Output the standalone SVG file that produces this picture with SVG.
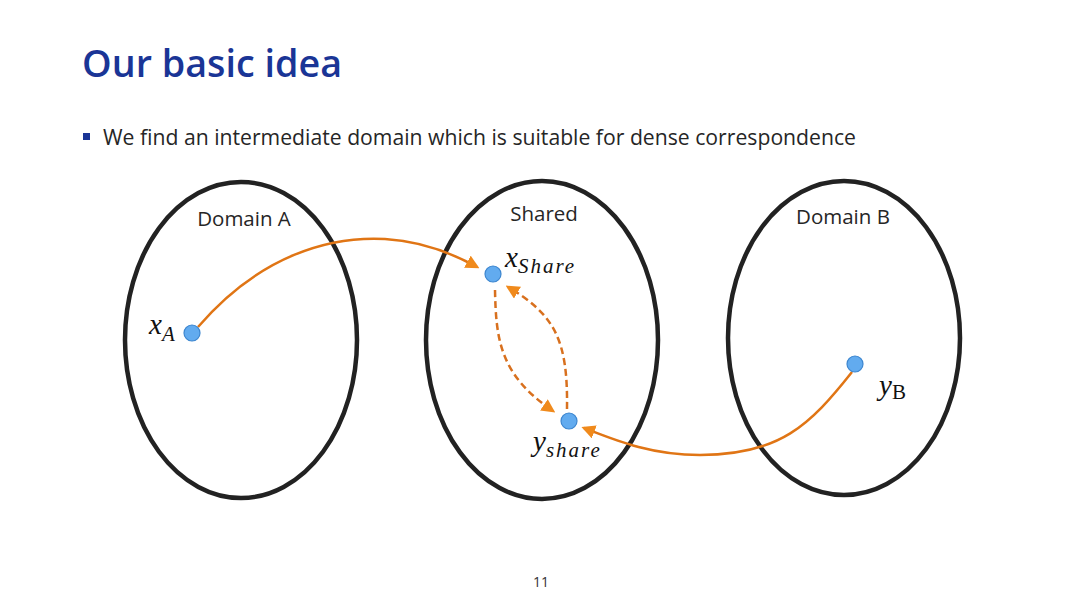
<svg xmlns="http://www.w3.org/2000/svg" width="1080" height="608" viewBox="0 0 1080 608">
<style>
.title{font-family:"Open Sans","Noto Sans",sans-serif;font-weight:600;font-size:37px;fill:#1a3596}
.body{font-family:"Open Sans","Noto Sans",sans-serif;font-size:21px;fill:#262626}
.lbl{font-family:"Open Sans","Noto Sans",sans-serif;font-size:20.5px;fill:#262626}
.math{font-family:"Liberation Serif",serif;font-style:italic;font-size:29px;fill:#111}
.sub{font-size:21px;letter-spacing:2px}
.dom{fill:none;stroke:#222;stroke-width:4.5}
.dot{fill:#62abef;stroke:#3d86cf;stroke-width:1.2}
.arr{fill:none;stroke:#e07515;stroke-width:2.5}
.dash{fill:none;stroke:#d8701e;stroke-width:2.5;stroke-dasharray:7 4}
</style>
<defs>
<marker id="ah" viewBox="0 0 10 10" refX="8" refY="5" markerWidth="5.5" markerHeight="5.5" orient="auto" markerUnits="strokeWidth">
<path d="M0,0 L10,5 L0,10 z" fill="#f08a1c"/>
</marker>
</defs>
<rect width="1080" height="608" fill="#fff"/>
<text class="title" x="82" y="77" textLength="260" lengthAdjust="spacingAndGlyphs">Our basic idea</text>
<rect x="83" y="133" width="7" height="7" fill="#1a3596"/>
<text class="body" x="103" y="145" textLength="753" lengthAdjust="spacingAndGlyphs">We find an intermediate domain which is suitable for dense correspondence</text>

<g id="domainA">
<ellipse class="dom" cx="241" cy="340" rx="116" ry="158"/>
<text class="lbl" x="244" y="226" text-anchor="middle">Domain A</text>
</g>
<g id="shared">
<ellipse class="dom" cx="542" cy="340" rx="116" ry="159"/>
<text class="lbl" x="544" y="221" text-anchor="middle">Shared</text>
</g>
<g id="domainB">
<ellipse class="dom" cx="844" cy="338" rx="116" ry="157"/>
<text class="lbl" x="843" y="224" text-anchor="middle">Domain B</text>
</g>

<g id="connectors">
<path class="arr" d="M198,327 C260,255 330,236 385,239 C420,241 450,252 477,267" marker-end="url(#ah)"/>
<path class="arr" d="M852,372 C810,425 780,455 700,455 C650,455 615,440 584,428" marker-end="url(#ah)"/>
<path class="dash" d="M495,290 C496,340 500,375 553,411" marker-end="url(#ah)"/>
<path class="dash" d="M567,409 C568,340 555,315 508,287" marker-end="url(#ah)"/>
</g>

<g id="xA">
<circle class="dot" cx="192" cy="333" r="8"/>
<text class="math" x="149" y="334">x<tspan class="sub" dy="7">A</tspan></text>
</g>
<g id="xShare">
<circle class="dot" cx="493" cy="274" r="8"/>
<text class="math" x="505" y="267">x<tspan class="sub" dy="6">Share</tspan></text>
</g>
<g id="yShare">
<circle class="dot" cx="569" cy="421" r="8"/>
<text class="math" x="533" y="451">y<tspan class="sub" dy="6">share</tspan></text>
</g>
<g id="yB">
<circle class="dot" cx="855" cy="364" r="8"/>
<text class="math" x="879" y="395">y<tspan class="sub" dy="4" font-style="normal">B</tspan></text>
</g>
<text x="541" y="587" text-anchor="middle" style="font-family:'Open Sans','Noto Sans',sans-serif;font-size:14px;fill:#333">11</text>
</svg>
